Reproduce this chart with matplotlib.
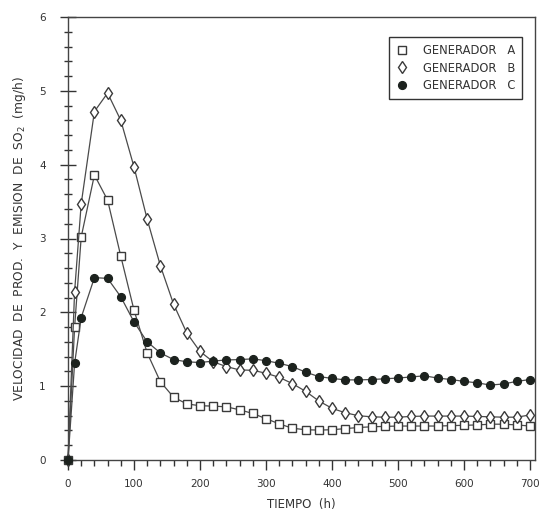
import matplotlib
matplotlib.use("Agg")
import matplotlib.pyplot as plt
from matplotlib.ticker import MultipleLocator

# ---- data ----
tiempo = [0, 10, 20, 40, 60, 80, 100, 120, 140, 160, 180, 200, 220, 240, 260, 280,
          300, 320, 340, 360, 380, 400, 420, 440, 460, 480, 500, 520, 540, 560, 580,
          600, 620, 640, 660, 680, 700]

gen_a = [0, 1.80, 3.02, 3.86, 3.52, 2.76, 2.03, 1.45, 1.06, 0.85, 0.76, 0.735, 0.73,
         0.72, 0.68, 0.63, 0.56, 0.49, 0.43, 0.41, 0.405, 0.41, 0.425, 0.44, 0.45,
         0.455, 0.46, 0.46, 0.46, 0.46, 0.465, 0.47, 0.475, 0.485, 0.485, 0.475, 0.46]

gen_b = [0, 2.28, 3.47, 4.72, 4.97, 4.60, 3.97, 3.26, 2.63, 2.11, 1.72, 1.47, 1.33,
         1.265, 1.22, 1.215, 1.175, 1.12, 1.035, 0.93, 0.80, 0.70, 0.64, 0.60, 0.585,
         0.58, 0.58, 0.59, 0.595, 0.595, 0.595, 0.595, 0.59, 0.585, 0.58, 0.58, 0.61]

gen_c = [0, 1.31, 1.93, 2.47, 2.46, 2.21, 1.87, 1.60, 1.45, 1.36, 1.33, 1.32, 1.34,
         1.355, 1.36, 1.37, 1.345, 1.31, 1.265, 1.19, 1.13, 1.105, 1.085, 1.085, 1.09,
         1.10, 1.11, 1.125, 1.14, 1.11, 1.09, 1.065, 1.045, 1.015, 1.03, 1.065, 1.09]

labels = ["GENERADOR   A", "GENERADOR   B", "GENERADOR   C"]
x_ticks = [0, 100, 200, 300, 400, 500, 600, 700]
y_ticks = [0, 1, 2, 3, 4, 5, 6]

# ---- figure ----
W, H = 539, 515
fig = plt.figure(figsize=(W / 100, H / 100), dpi=100)
ax = fig.add_axes([68 / W, 1 - 460 / H, (535 - 68) / W, (460 - 17) / H])

line_col = "#4a4a4a"
edge_col = "#3a3a3a"

ax.plot(tiempo, gen_a, color=line_col, lw=0.9, marker="s", ms=5.2,
        mfc="white", mec=edge_col, mew=1.0, label=labels[0], clip_on=False, zorder=3)
ax.plot(tiempo, gen_b, color=line_col, lw=0.9, marker="d", ms=6.3,
        mfc="white", mec=edge_col, mew=1.0, label=labels[1], clip_on=False, zorder=3)
ax.plot(tiempo, gen_c, color=line_col, lw=0.9, marker="o", ms=5.6,
        mfc="#1c221e", mec="#1c221e", mew=1.0, label=labels[2], clip_on=False, zorder=4)

ax.set_xlim(0, 707.6)
ax.set_ylim(0, 6)
ax.set_xticks(x_ticks)
ax.set_yticks(y_ticks)
ax.xaxis.set_minor_locator(MultipleLocator(20))
ax.yaxis.set_minor_locator(MultipleLocator(0.2))

ax.tick_params(axis="x", which="major", direction="out", length=7, width=1.0,
               labelsize=7.5, pad=7, colors="#333333")
ax.tick_params(axis="x", which="minor", direction="out", length=4, width=1.0,
               colors="#333333")
ax.tick_params(axis="y", which="major", direction="inout", length=12, width=1.0,
               labelsize=7.5, pad=10, colors="#333333")
ax.tick_params(axis="y", which="minor", direction="inout", length=6, width=1.0,
               colors="#333333")

for s in ax.spines.values():
    s.set_color("#444444")
    s.set_linewidth(1.0)

ax.set_xlabel("TIEMPO  (h)", fontsize=8.5, color="#333333", labelpad=6)
ax.set_ylabel("VELOCIDAD  DE  PROD.  Y  EMISION  DE  SO$_2$  (mg/h)",
              fontsize=8.8, color="#333333", labelpad=8)

leg = ax.legend(loc="upper right", bbox_to_anchor=(522 / W, 1 - 37 / H),
                bbox_transform=fig.transFigure, fontsize=8.3, frameon=True,
                fancybox=False, edgecolor="#333333", framealpha=1,
                handlelength=1.0, handletextpad=1.3, labelspacing=0.4,
                borderpad=0.6, borderaxespad=0, numpoints=1)
for h in leg.legend_handles:
    h.set_linestyle("none")
leg.get_frame().set_linewidth(1.0)
for t in leg.get_texts():
    t.set_color("#333333")

fig.savefig("out.png", dpi=100)
